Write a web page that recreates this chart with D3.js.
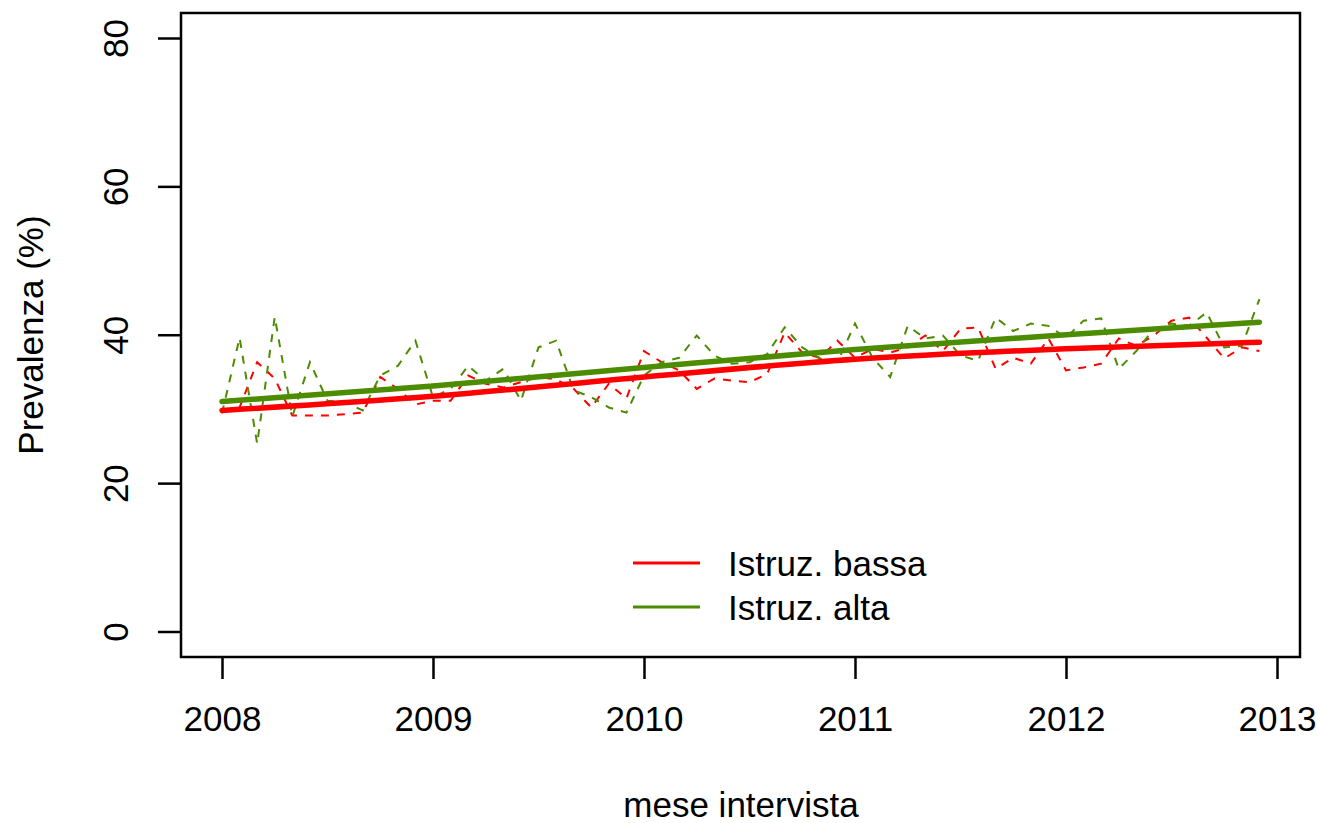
<!DOCTYPE html>
<html>
<head>
<meta charset="utf-8">
<script src="https://cdn.jsdelivr.net/npm/d3@7"></script>
<style>
  body { margin: 0; background: #fff; }
  svg text { font-family: "Liberation Sans", Arial, sans-serif; fill: #000; }
</style>
</head>
<body>
<svg id="chart" width="1321" height="823"></svg>
<script>
// monthly prevalence, Jan 2008 .. Dec 2012
const bassaMonthly = [
  29.8, 30.2, 36.3, 34.1, 29.1, 29.1, 29.1, 29.3, 29.5, 34.3, 32.7, 30.6,
  31.1, 31.1, 34.5, 33.4, 32.9, 33.6, 34.3, 34.0, 32.7, 30.2, 33.4, 31.4,
  37.8, 36.3, 35.2, 32.7, 34.1, 33.8, 33.6, 34.7, 40.3, 37.6, 36.9, 39.2,
  36.9, 38.1, 37.6, 38.3, 39.9, 37.8, 40.8, 41.0, 35.4, 36.9, 36.1, 39.5,
  35.2, 35.6, 36.1, 39.5, 38.5, 39.9, 41.9, 42.3, 39.6, 36.8, 38.3, 37.8
];
const altaMonthly = [
  29.4, 39.6, 25.3, 42.4, 29.0, 36.3, 31.1, 30.9, 29.8, 34.5, 35.8, 39.2,
  31.6, 32.7, 35.8, 33.8, 35.4, 31.1, 38.3, 39.2, 32.5, 31.6, 30.2, 29.5,
  34.5, 36.3, 36.9, 39.9, 37.2, 36.1, 36.3, 37.4, 41.0, 38.3, 36.8, 36.3,
  41.5, 36.9, 34.3, 41.2, 39.5, 39.9, 37.2, 36.5, 42.3, 40.5, 41.5, 41.2,
  39.6, 41.9, 42.2, 35.4, 37.8, 40.8, 41.5, 41.2, 43.0, 38.3, 38.5, 44.8
];
// smoothed trend, read at these times
const trendTimes = [2008, 2009, 2010, 2011, 2012, 2012 + 11 / 12];
const bassaTrend = [29.8, 31.7, 34.3, 36.7, 38.1, 39.0];
const altaTrend = [31.0, 33.1, 35.6, 38.0, 40.0, 41.7];

const xTicks = [2008, 2009, 2010, 2011, 2012, 2013];
const yTicks = [0, 20, 40, 60, 80];
const seriesNames = ["Istruz. bassa", "Istruz. alta"];
const red = "#ff0000";
const green = "#4c8c00";

const svg = d3.select("#chart");
const box = { left: 181, right: 1300, top: 13, bottom: 657 };

const x = d3.scaleLinear().domain([2008, 2013]).range([222, 1277]);
const y = d3.scaleLinear().domain([0, 80]).range([631.5, 38]);

const monthly = (vals) => vals.map((v, i) => ({ t: 2008 + i / 12, v }));
const trend = (vals) => vals.map((v, i) => ({ t: trendTimes[i], v }));

const dashedLine = d3.line().x((d) => x(d.t)).y((d) => y(d.v));
const smoothLine = d3.line().x((d) => x(d.t)).y((d) => y(d.v)).curve(d3.curveMonotoneX);

// raw monthly series
[[bassaMonthly, red], [altaMonthly, green]].forEach(([vals, col]) => {
  svg.append("path")
    .datum(monthly(vals))
    .attr("d", dashedLine)
    .attr("fill", "none")
    .attr("stroke", col)
    .attr("stroke-width", 2)
    .attr("stroke-dasharray", "8,8");
});

// trends
[[bassaTrend, red], [altaTrend, green]].forEach(([vals, col]) => {
  svg.append("path")
    .datum(trend(vals))
    .attr("d", smoothLine)
    .attr("fill", "none")
    .attr("stroke", col)
    .attr("stroke-width", 5.5)
    .attr("stroke-linecap", "round");
});

// frame
svg.append("rect")
  .attr("x", box.left).attr("y", box.top)
  .attr("width", box.right - box.left).attr("height", box.bottom - box.top)
  .attr("fill", "none").attr("stroke", "#000").attr("stroke-width", 2.5);

// x axis
const xAxis = d3.axisBottom(x).tickValues(xTicks).tickFormat(d3.format("d")).tickSize(22).tickPadding(27);
const gx = svg.append("g").attr("transform", `translate(0,${box.bottom})`).call(xAxis);
gx.select(".domain").remove();
gx.selectAll("line").attr("stroke-width", 2.5);
gx.selectAll("text").style("font-size", "35px");

// y axis
const yAxis = d3.axisLeft(y).tickValues(yTicks).tickSize(23).tickFormat(d3.format("d"));
const gy = svg.append("g").attr("transform", `translate(${box.left},0)`).call(yAxis);
gy.select(".domain").remove();
gy.selectAll("line").attr("stroke-width", 2.5);
gy.selectAll("text")
  .attr("x", null).attr("dy", null)
  .attr("text-anchor", "middle")
  .attr("transform", "translate(-53,0) rotate(-90)")
  .style("font-size", "35px");

// axis titles
svg.append("text")
  .attr("x", (box.left + box.right) / 2 + 0.5).attr("y", 817)
  .attr("text-anchor", "middle").style("font-size", "35px")
  .text("mese intervista");
svg.append("text")
  .attr("transform", `translate(43,${(box.top + box.bottom) / 2}) rotate(-90)`)
  .attr("text-anchor", "middle").style("font-size", "35px")
  .text("Prevalenza (%)");

// legend
const legend = svg.append("g");
seriesNames.forEach((name, i) => {
  const ly = 563 + i * 44;
  legend.append("line")
    .attr("x1", 633).attr("x2", 700).attr("y1", ly).attr("y2", ly)
    .attr("stroke", i === 0 ? red : green).attr("stroke-width", 3);
  legend.append("text")
    .attr("x", 728).attr("y", ly + 13)
    .style("font-size", "35px")
    .text(name);
});
</script>
</body>
</html>
